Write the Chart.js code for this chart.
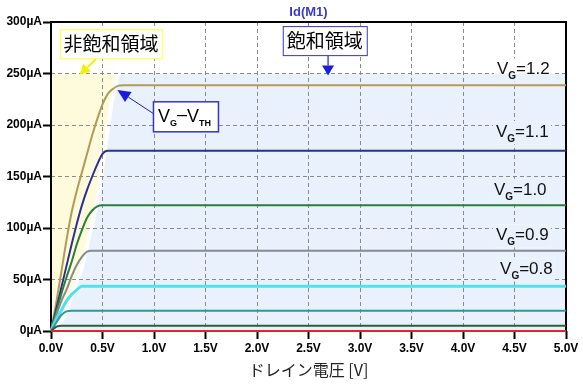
<!DOCTYPE html>
<html><head><meta charset="utf-8">
<script src="https://cdn.jsdelivr.net/npm/chart.js@4/dist/chart.umd.min.js"></script>
<style>html,body{margin:0;padding:0;background:#fff}#wrap{width:583px;height:384px}</style>
</head><body><div id="wrap"><canvas id="c" width="583" height="384"></canvas></div>
<script>
// ---- data ----
const voltages = [0, 0.05, 0.1, 0.15, 0.2, 0.25, 0.3, 0.35, 0.4, 0.45, 0.5, 0.55, 0.6, 0.65, 0.7, 5.0];
const id_vg12 = [0, 27, 57, 88, 115, 136, 154, 172, 190, 206, 220, 230, 235, 238, 238.5, 238.5];
const id_vg11 = [0, 21, 42, 63, 84, 104, 122, 137, 150, 162, 172, 175, 175, 175, 175, 175];
const id_vg10 = [0, 18, 36, 52, 67, 84, 98, 110, 117, 121, 122, 122, 122, 122, 122, 122];
const id_vg09 = [0, 15, 29, 40, 53, 64, 72, 77, 78, 78, 78, 78, 78, 78, 78, 78];
const id_vg08 = [0, 11, 20, 29, 35.5, 40, 43.5, 43.5, 43.5, 43.5, 43.5, 43.5, 43.5, 43.5, 43.5, 43.5];
const id_vg07 = [0, 8, 15.5, 19, 19.7, 19.7, 19.7, 19.7, 19.7, 19.7, 19.7, 19.7, 19.7, 19.7, 19.7, 19.7];
const id_vg06 = [0, 4, 5, 5, 5, 5, 5, 5, 5, 5, 5, 5, 5, 5, 5, 5];
const id_vg05 = [0, 0, 0, 0, 0, 0, 0, 0, 0, 0, 0, 0, 0, 0, 0, 0];
const gateVoltages = ['1.2', '1.1', '1.0', '0.9', '0.8', '0.7', '0.6', '0.5'];
const xTickLabels = ['0.0V','0.5V','1.0V','1.5V','2.0V','2.5V','3.0V','3.5V','4.0V','4.5V','5.0V'];
const yTickLabels = ['0µA','50µA','100µA','150µA','200µA','250µA','300µA'];
const chartTitle = 'Id(M1)';
const xAxisTitle = 'ドレイン電圧 [V]';
// region (linear / saturation) boundary
const regionTopCurrent = 250;
const edgeCurrents = [0, 10, 61, 126, 223, 250];
const linearEdgeVolts = [0.02, 0.09, 0.28, 0.43, 0.57, 0.63];
const satEdgeVolts = [0.04, 0.13, 0.32, 0.47, 0.61, 0.67];

// ---- styles ----
const seriesList = [id_vg12, id_vg11, id_vg10, id_vg09, id_vg08, id_vg07, id_vg06, id_vg05];
const seriesColors = ['#b39a55', '#2b3191', '#2e7d3c', '#868a90', '#4fe1ee', '#2a9a9f', '#2d5f3a', '#e0262a'];
const seriesWidths = [2, 2, 2, 2, 3, 2, 2, 2];
const LBL_FONT = '"Liberation Sans", Arial, sans-serif';
const CJK_FONT = '"Noto Sans CJK JP", "Noto Sans", sans-serif';
const BLUE_BG = '#e9f2fc';
const YELLOW_BG = '#fdfbdc';

// label anchors (V, µA) for the VG texts
const vgLabelPos = [[4.33, 255], [4.32, 194], [4.30, 138], [4.32, 94], [4.36, 61]];

const datasets = seriesList.map((s, k) => ({
  label: 'VG=' + gateVoltages[k],
  data: voltages.map((v, i) => ({x: v, y: s[i]})),
  borderColor: seriesColors[k],
  backgroundColor: seriesColors[k],
  borderWidth: seriesWidths[k],
  pointRadius: 0,
  cubicInterpolationMode: 'monotone',
  fill: false,
  clip: false
})).reverse();

function arrow(ctx, x1, y1, x2, y2, color, headLen, headW, lw) {
  const ang = Math.atan2(y2 - y1, x2 - x1);
  const bx = x2 - headLen * Math.cos(ang), by = y2 - headLen * Math.sin(ang);
  ctx.save();
  ctx.strokeStyle = color; ctx.fillStyle = color; ctx.lineWidth = lw;
  ctx.beginPath(); ctx.moveTo(x1, y1); ctx.lineTo(bx, by); ctx.stroke();
  ctx.beginPath();
  ctx.moveTo(x2, y2);
  ctx.lineTo(bx + headW / 2 * Math.sin(ang), by - headW / 2 * Math.cos(ang));
  ctx.lineTo(bx - headW / 2 * Math.sin(ang), by + headW / 2 * Math.cos(ang));
  ctx.closePath(); ctx.fill();
  ctx.restore();
}

const deco = {
  id: 'deco',
  beforeDraw(chart) {
    const {ctx, chartArea: a, scales: {x, y}} = chart;
    ctx.save();
    ctx.fillStyle = '#fff'; ctx.fillRect(0, 0, chart.width, chart.height);
    const top = y.getPixelForValue(regionTopCurrent);
    // saturation region
    ctx.fillStyle = BLUE_BG;
    ctx.beginPath();
    edgeCurrents.forEach((c, i) => {
      const px = x.getPixelForValue(satEdgeVolts[i]), py = y.getPixelForValue(c);
      if (i === 0) ctx.moveTo(px, py); else ctx.lineTo(px, py);
    });
    ctx.lineTo(a.right, top); ctx.lineTo(a.right, a.bottom); ctx.closePath(); ctx.fill();
    // linear region
    ctx.fillStyle = YELLOW_BG;
    ctx.beginPath();
    ctx.moveTo(a.left, a.bottom);
    edgeCurrents.forEach((c, i) => {
      ctx.lineTo(x.getPixelForValue(linearEdgeVolts[i]), y.getPixelForValue(c));
    });
    ctx.lineTo(a.left, top); ctx.closePath(); ctx.fill();
    ctx.restore();
  },
  beforeDatasetsDraw(chart) {
    const {ctx, chartArea: a} = chart;
    ctx.save();
    ctx.strokeStyle = '#000'; ctx.lineWidth = 2;
    ctx.strokeRect(a.left, a.top, a.right - a.left, a.bottom - a.top);
    ctx.restore();
  },
  afterDatasetsDraw(chart) {
    const {ctx, chartArea: a, scales: {x, y}} = chart;
    const top = y.getPixelForValue(regionTopCurrent);
    ctx.save();
    // VG labels
    vgLabelPos.forEach((p, k) => {
      const lx = x.getPixelForValue(p[0]), cy = y.getPixelForValue(p[1]);
      ctx.font = '17px ' + LBL_FONT;
      const wV = ctx.measureText('V').width;
      ctx.font = 'bold 10px ' + LBL_FONT;
      const wG = ctx.measureText('G').width;
      ctx.font = '17px ' + LBL_FONT;
      const rest = '=' + gateVoltages[k];
      const wR = ctx.measureText(rest).width;
      const rx = lx - 3, ry = cy - 10, rw = wV + wG + wR + 5, rh = 23;
      ctx.fillStyle = '#fff'; ctx.fillRect(rx, ry, rw, rh);
      const yb = Math.max(ry, top);
      if (yb < ry + rh) { ctx.fillStyle = BLUE_BG; ctx.fillRect(rx, yb, rw, ry + rh - yb); }
      ctx.fillStyle = '#111'; ctx.textBaseline = 'alphabetic'; ctx.textAlign = 'left';
      ctx.font = '17px ' + LBL_FONT; ctx.fillText('V', lx, cy + 6);
      ctx.font = 'bold 10px ' + LBL_FONT; ctx.fillText('G', lx + wV, cy + 11);
      ctx.font = '17px ' + LBL_FONT; ctx.fillText(rest, lx + wV + wG, cy + 6);
    });

    // "非飽和領域" box
    const b1x = x.getPixelForValue(0.087), b1y = y.getPixelForValue(293);
    ctx.fillStyle = '#fff'; ctx.fillRect(b1x, b1y, 102, 29);
    ctx.strokeStyle = '#ffff70'; ctx.lineWidth = 1.5; ctx.strokeRect(b1x + 0.5, b1y + 0.5, 102, 29);
    ctx.fillStyle = '#000'; ctx.font = '19px ' + CJK_FONT; ctx.textAlign = 'center'; ctx.textBaseline = 'middle';
    ctx.fillText('非飽和領域', b1x + 51, b1y + 15);
    arrow(ctx, b1x + 36, b1y + 30, x.getPixelForValue(0.28), y.getPixelForValue(250) + 1, '#f2f200', 10, 11, 2);

    // "飽和領域" box
    const b2x = x.getPixelForValue(2.25), b2y = y.getPixelForValue(296);
    ctx.fillStyle = '#fff'; ctx.fillRect(b2x, b2y, 84, 29);
    ctx.strokeStyle = '#3535c0'; ctx.lineWidth = 1; ctx.strokeRect(b2x + 0.5, b2y + 0.5, 84, 29);
    ctx.fillStyle = '#000'; ctx.font = '19px ' + CJK_FONT;
    ctx.fillText('飽和領域', b2x + 42, b2y + 15);
    const ax = x.getPixelForValue(2.69);
    arrow(ctx, ax, b2y + 30, ax, y.getPixelForValue(250) + 2, '#1c1ce0', 10, 12, 1.2);

    // VG-VTH box
    const b3x = x.getPixelForValue(0.99), b3y = y.getPixelForValue(223);
    ctx.fillStyle = '#fff'; ctx.fillRect(b3x, b3y, 65, 30);
    ctx.strokeStyle = '#3535c0'; ctx.lineWidth = 1.5; ctx.strokeRect(b3x + 0.5, b3y + 0.5, 65, 30);
    ctx.fillStyle = '#000'; ctx.textAlign = 'left'; ctx.textBaseline = 'alphabetic';
    let cx = b3x + 5;
    ctx.font = '18px ' + LBL_FONT; ctx.fillText('V', cx, b3y + 21); cx += ctx.measureText('V').width;
    ctx.font = 'bold 9px ' + LBL_FONT; ctx.fillText('G', cx, b3y + 25); cx += ctx.measureText('G').width;
    ctx.font = '18px ' + LBL_FONT; ctx.fillText('–', cx, b3y + 19); cx += ctx.measureText('–').width;
    ctx.fillText('V', cx, b3y + 21); cx += ctx.measureText('V').width;
    ctx.font = 'bold 9px ' + LBL_FONT; ctx.fillText('TH', cx, b3y + 25);
    arrow(ctx, b3x, b3y + 12, x.getPixelForValue(0.645), y.getPixelForValue(235) + 1, '#1a1ae0', 13, 12, 1);

    // title and axis title
    ctx.textAlign = 'center'; ctx.textBaseline = 'middle';
    ctx.fillStyle = '#3a3ad0'; ctx.font = 'bold 13px ' + LBL_FONT;
    ctx.fillText(chartTitle, (a.left + a.right) / 2, 12);
    ctx.fillStyle = '#222'; ctx.font = '16px ' + CJK_FONT;
    ctx.fillText(xAxisTitle, (a.left + a.right) / 2, 370);
    ctx.restore();
  }
};

new Chart(document.getElementById('c'), {
  type: 'line',
  data: {datasets},
  options: {
    responsive: false, animation: false, devicePixelRatio: 1,
    layout: {padding: {top: 22, right: 17, left: 0, bottom: 0}},
    plugins: {legend: {display: false}, tooltip: {enabled: false}, title: {display: false}},
    scales: {
      x: {
        type: 'linear', min: 0, max: 5,
        afterFit(s) { s.height = 53; },
        ticks: {stepSize: 0.5, autoSkip: false, maxRotation: 0, padding: 2, color: '#000',
          font: {family: LBL_FONT, size: 12, weight: 'bold'},
          callback: (v, i) => xTickLabels[i]},
        grid: {color: '#8a8a8a', lineWidth: 1, tickColor: '#000', tickWidth: 2, tickLength: 8},
        border: {display: false, dash: [4, 3]}
      },
      y: {
        type: 'linear', min: 0, max: 300,
        afterFit(s) { s.width = 51; },
        ticks: {stepSize: 50, padding: 1, color: '#000',
          font: {family: LBL_FONT, size: 12, weight: 'bold'},
          callback: (v, i) => yTickLabels[i]},
        grid: {color: '#8a8a8a', lineWidth: 1, tickColor: '#000', tickWidth: 2, tickLength: 8},
        border: {display: false, dash: [4, 3]}
      }
    }
  },
  plugins: [deco]
});
</script></body></html>
